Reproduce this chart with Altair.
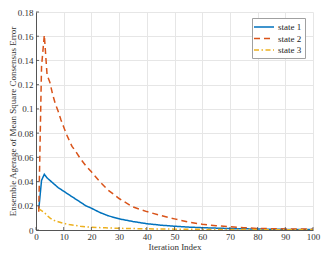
import altair as alt
import pandas as pd

# state 1 (blue, solid)
x1 = [1, 2, 3, 4, 5, 6, 7, 8, 10, 12, 14, 16, 18, 20, 23, 26, 30, 35, 40, 45, 50, 55, 60, 70, 80, 90, 100]
y1 = [0.017, 0.041, 0.046, 0.043, 0.041, 0.039, 0.037, 0.035, 0.032, 0.029, 0.026, 0.023, 0.020, 0.018,
      0.0145, 0.0118, 0.0092, 0.0070, 0.0052, 0.0040, 0.0031, 0.0024, 0.0019, 0.0012, 0.0008, 0.0005, 0.0004]

# state 2 (red, dashed)
x2 = [1, 2, 3, 4, 5, 6, 7, 8, 9, 10, 11, 12, 13, 14, 16, 18, 20, 23, 26, 30, 35, 40, 45, 50, 55, 60, 65, 70, 75, 80, 85, 90, 95, 100]
y2 = [0.015, 0.135, 0.161, 0.128, 0.122, 0.112, 0.104, 0.098, 0.091, 0.085, 0.079, 0.074, 0.069, 0.066, 0.059,
      0.053, 0.048, 0.040, 0.033, 0.026, 0.019, 0.0152, 0.012, 0.0092, 0.0066, 0.0047, 0.0036, 0.0027,
      0.0019, 0.0013, 0.0011, 0.0009, 0.0008, 0.0007]

# state 3 (yellow, dash-dot)
x3 = [1, 2, 3, 4, 5, 6, 7, 8, 10, 12, 14, 16, 20, 25, 30, 40, 50, 60, 70, 80, 100]
y3 = [0.0175, 0.016, 0.0145, 0.012, 0.010, 0.0085, 0.0075, 0.0068, 0.0055, 0.0045, 0.0038, 0.0031,
      0.0022, 0.0018, 0.0014, 0.0010, 0.0007, 0.0005, 0.0004, 0.0003, 0.0002]

names = ["state 1", "state 2", "state 3"]
colors = ["#0072BD", "#D95319", "#EDB120"]
dashes = [[1, 0], [6, 4], [5, 2.5, 1.5, 2.5]]

x_ticks = list(range(0, 101, 10))
y_ticks = [0, 0.02, 0.04, 0.06, 0.08, 0.1, 0.12, 0.14, 0.16, 0.18]

rows = []
for name, xs, ys in zip(names, [x1, x2, x3], [y1, y2, y3]):
    for xv, yv in zip(xs, ys):
        rows.append({"iter": xv, "err": yv, "series": name})
df = pd.DataFrame(rows)

W, H = 277, 218
FONT = "Liberation Serif"

x_scale = alt.Scale(domain=[0, 100], nice=False)
y_scale = alt.Scale(domain=[0, 0.18], nice=False)
x_axis = alt.Axis(values=x_ticks, title="Iteration Index", tickSize=0, labelOverlap=False,
                  labelFlush=False, labelPadding=2, titlePadding=1)
y_axis = alt.Axis(values=y_ticks, format="~g", title="Ensemble Agerage of Mean Square Consensus Error",
                  tickSize=0, labelOverlap=False, labelFlush=False, labelPadding=3, titlePadding=0)

lines = alt.Chart(df).mark_line(strokeWidth=1.5, clip=True).encode(
    x=alt.X("iter:Q", scale=x_scale, axis=x_axis),
    y=alt.Y("err:Q", scale=y_scale, axis=y_axis),
    color=alt.Color("series:N", scale=alt.Scale(domain=names, range=colors),
                    legend=alt.Legend(title=None, orient="none", legendX=216, legendY=6,
                                      symbolType="M-1.4,0H2.6", symbolSize=100, symbolStrokeWidth=1.5,
                                      labelOffset=11, padding=3, rowPadding=0.5,
                                      strokeColor="#a0a0a0", fillColor="white",
                                      labelFont=FONT, labelFontSize=9, labelColor="#222")),
    strokeDash=alt.StrokeDash("series:N", scale=alt.Scale(domain=names, range=dashes), legend=None),
)

tick_df = pd.DataFrame({"t": x_ticks})
xticks = alt.Chart(tick_df).mark_rule(color="#444", strokeWidth=0.8).encode(
    x=alt.X("t:Q", scale=x_scale, axis=x_axis), y=alt.value(H), y2=alt.value(H - 3))
ytick_df = pd.DataFrame({"t": y_ticks})
yticks = alt.Chart(ytick_df).mark_rule(color="#444", strokeWidth=0.8).encode(
    y=alt.Y("t:Q", scale=y_scale, axis=y_axis), x=alt.value(0), x2=alt.value(3))

chart = alt.layer(lines, xticks, yticks).properties(
    width=W, height=H,
    autosize=alt.AutoSizeParams(type="none"),
    padding={"left": 28, "top": 4, "right": 10, "bottom": 20},
).configure(font=FONT).configure_view(stroke=None).configure_axis(
    labelFont=FONT, titleFont=FONT, labelFontSize=9, titleFontSize=9,
    labelColor="#333", titleColor="#333", titleFontWeight="normal",
    domainColor="#555", domainWidth=1, gridColor="#e6e6e6", gridWidth=1,
)

chart.save("out.html", embed_options={"renderer": "svg", "actions": False})
